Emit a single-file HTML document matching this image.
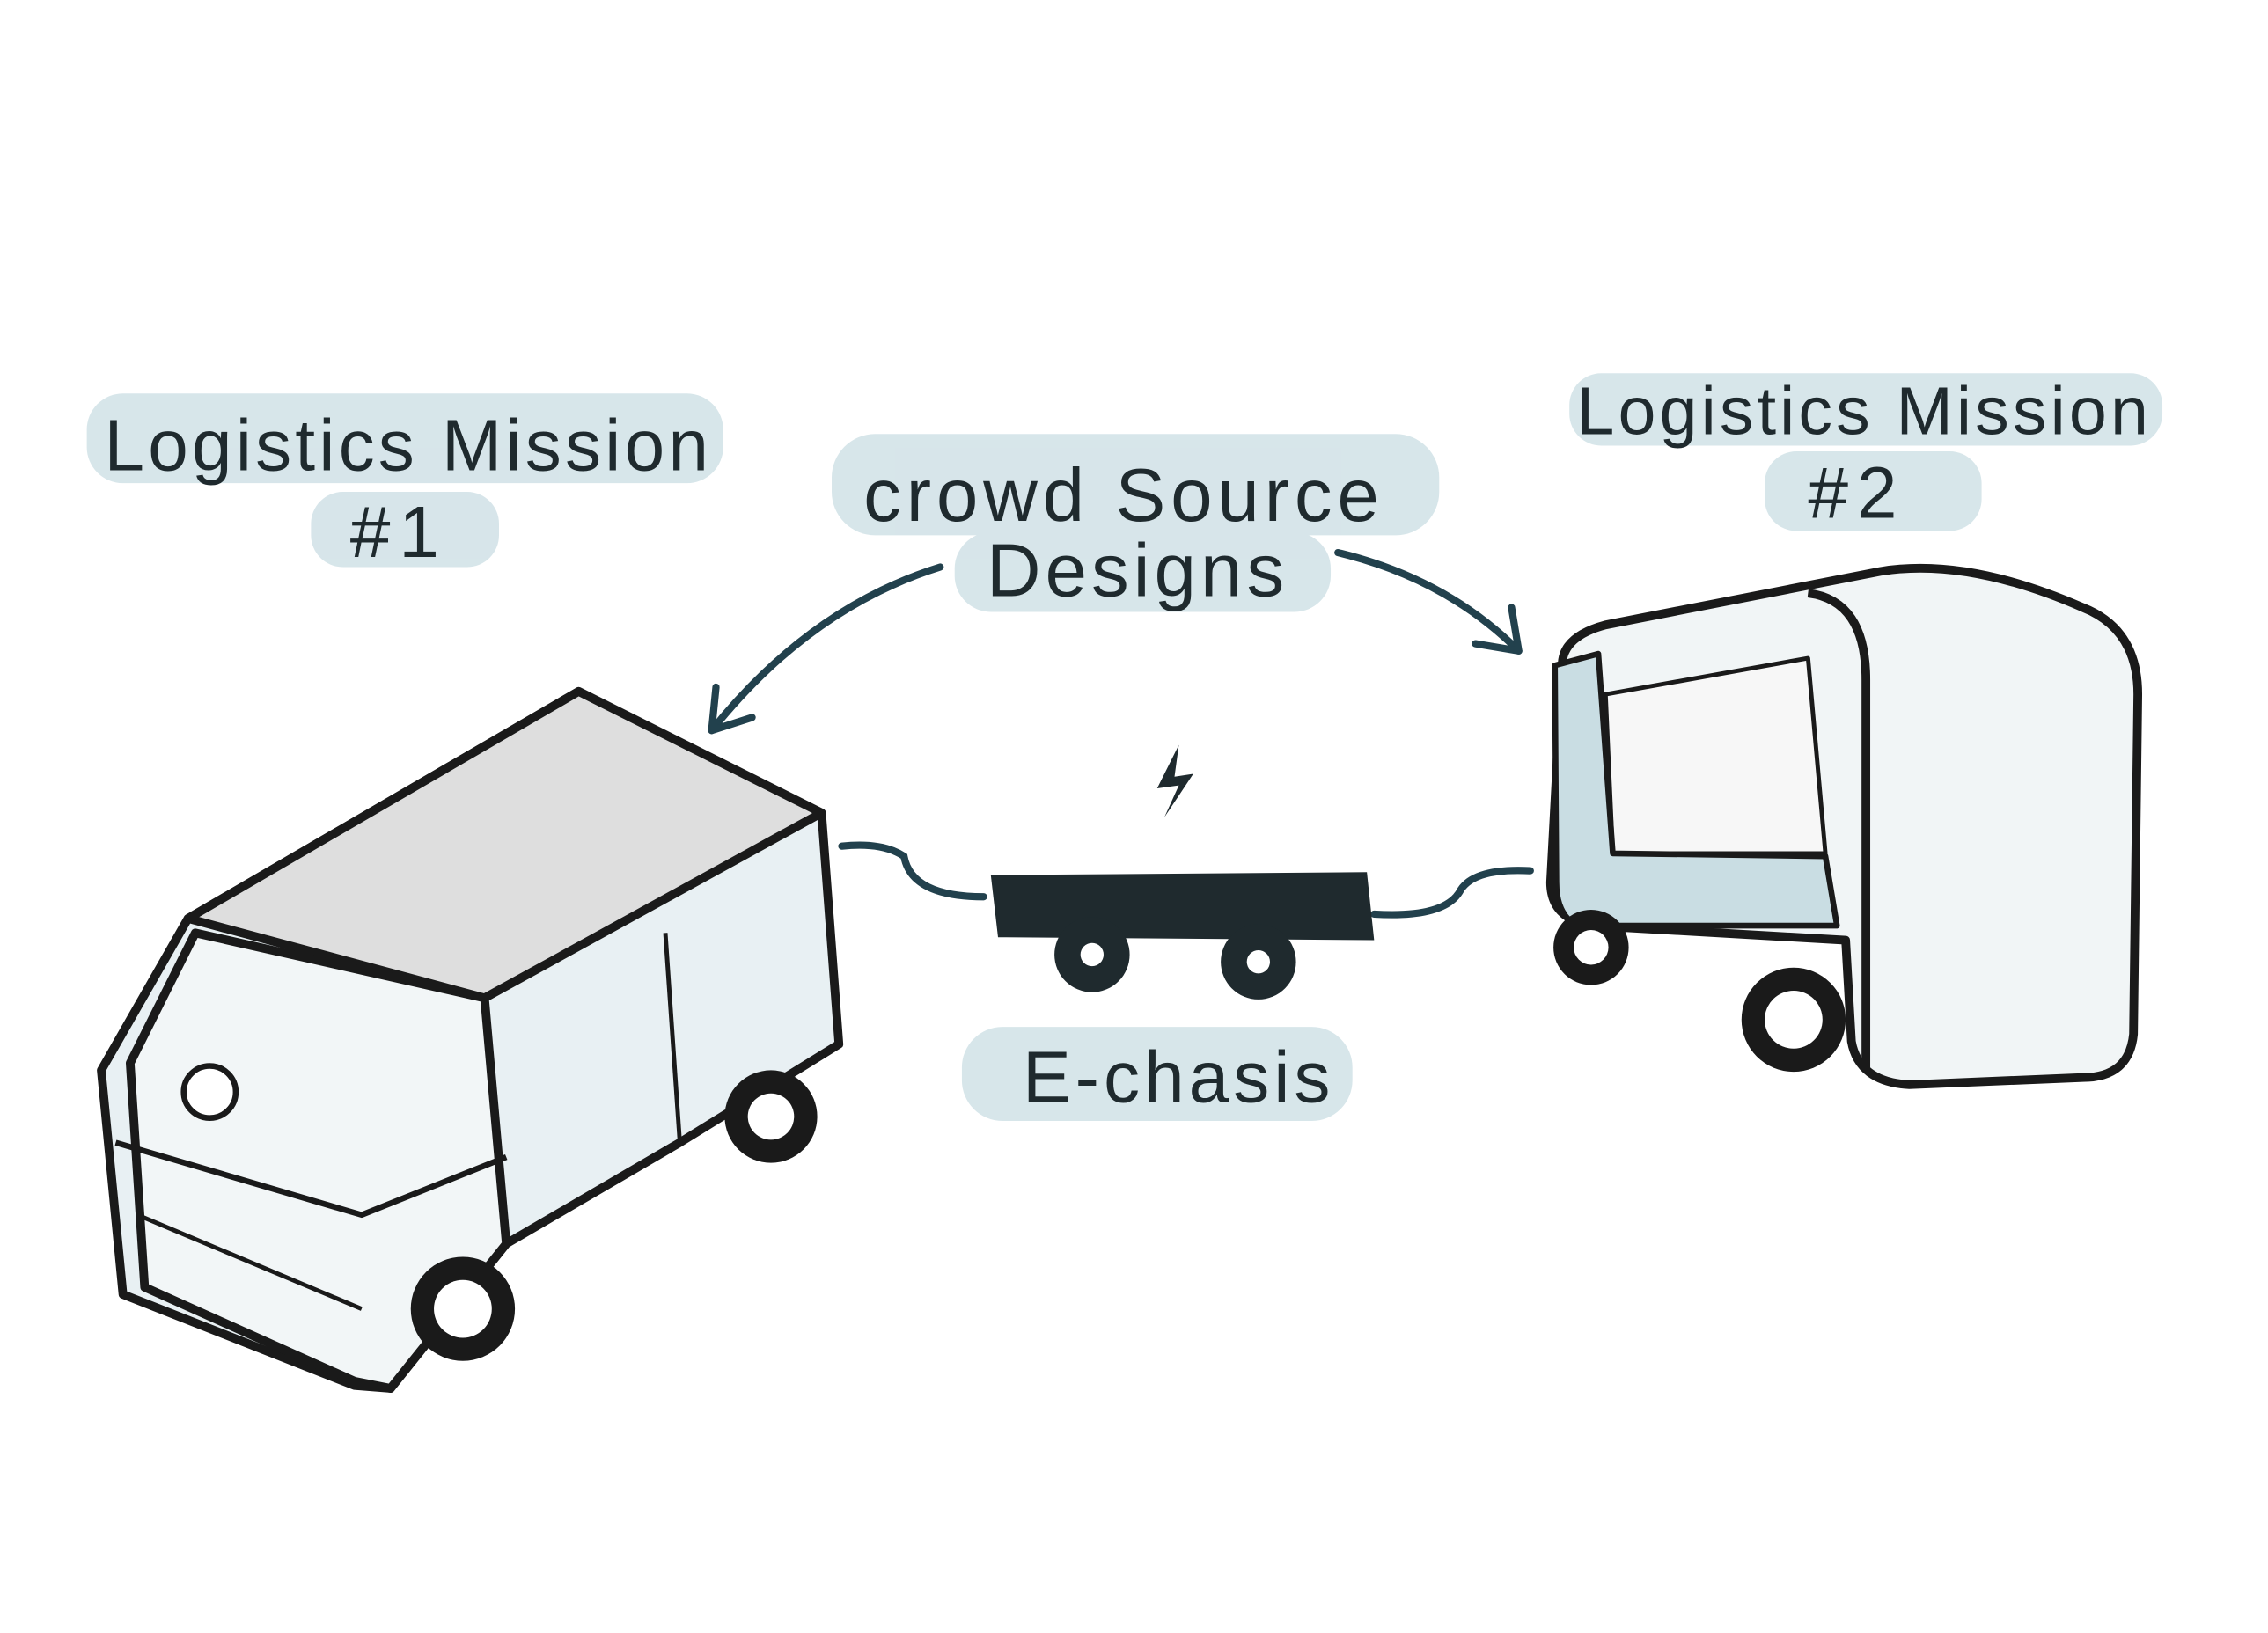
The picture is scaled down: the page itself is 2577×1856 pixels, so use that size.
<!DOCTYPE html>
<html><head><meta charset="utf-8"><style>
html,body{margin:0;padding:0;background:#fff;}
svg{display:block;}
text{font-family:"Liberation Sans",sans-serif;fill:#1f2a2e;}
</style></head><body>
<svg width="2577" height="1856" viewBox="0 0 1568 1129" xmlns="http://www.w3.org/2000/svg">
<rect width="1568" height="1129" fill="#ffffff"/>
<g fill="#d3e3e8" opacity="0.9">
<rect x="60" y="272" width="440" height="62" rx="25"/>
<rect x="215" y="340" width="130" height="52" rx="22"/>
<rect x="1085" y="258" width="410" height="50" rx="22"/>
<rect x="1220" y="312" width="150" height="55" rx="22"/>
<rect x="575" y="300" width="420" height="70" rx="30"/>
<rect x="660" y="368" width="260" height="55" rx="25"/>
<rect x="665" y="710" width="270" height="65" rx="28"/>
</g>
<g font-size="50" letter-spacing="2.5">
<text x="72" y="325">Logistics Mission</text>
<text x="242" y="385" letter-spacing="6">#1</text>
<text x="1090" y="300" font-size="47" letter-spacing="2.5">Logistics Mission</text>
<text x="1250" y="358" letter-spacing="6">#2</text>
<text x="597" y="360" font-size="52" letter-spacing="3.5">crowd Source</text>
<text x="682" y="412" font-size="52" letter-spacing="3">Designs</text>
<text x="707" y="762" letter-spacing="3">E-chasis</text>
</g>
<g fill="none" stroke="#22414d" stroke-width="5" stroke-linecap="round">
<path d="M650 392 Q560 420 492 505"/>
<path d="M492 505 L495 475 M492 505 L520 496"/>
<path d="M925 382 Q1000 400 1050 450"/>
<path d="M1050 450 L1020 445 M1050 450 L1045 420"/>
<path d="M582 585 Q610 582 625 592 Q630 620 680 620"/>
<path d="M950 632 Q1000 635 1010 615 Q1020 600 1058 602"/>
</g>
<path d="M815 515 L800 545 L815 543 L805 565 L825 535 L812 537 Z" fill="#1f2a2e"/>
<polygon points="685,605 945,603 950,650 690,648" fill="#1f2a2e"/>
<circle cx="755" cy="660" r="26" fill="#1f2a2e"/><circle cx="755" cy="660" r="8" fill="#fff"/>
<circle cx="870" cy="665" r="26" fill="#1f2a2e"/><circle cx="870" cy="665" r="8" fill="#fff"/>
<g stroke="#1a1a1a" stroke-width="6" stroke-linejoin="round" fill="#e8f0f3">
<polygon points="70,740 130,635 400,478 568,562 580,722 470,790 350,860 270,960 245,958 85,895"/>
<polygon points="130,635 400,478 568,562 335,690" fill="#dedede"/>
<polygon points="90,735 135,645 335,690 350,860 270,960 245,955 100,890" fill="#f2f6f7"/>
<polyline points="460,645 470,790" fill="none" stroke-width="3"/>
<polyline points="80,790 250,840 350,800" fill="none" stroke-width="4"/>
<polyline points="95,840 250,905" fill="none" stroke-width="3"/>
</g>
<circle cx="320" cy="905" r="36" fill="#1a1a1a"/><circle cx="320" cy="905" r="20" fill="#fff"/>
<circle cx="533" cy="772" r="32" fill="#1a1a1a"/><circle cx="533" cy="772" r="16" fill="#fff"/>
<circle cx="145" cy="755" r="18" fill="#fff" stroke="#1a1a1a" stroke-width="4"/>
<g stroke="#1a1a1a" stroke-width="6" stroke-linejoin="round">
<path d="M1080 460 Q1080 440 1110 432 L1300 395 Q1360 385 1440 420 Q1478 435 1478 480 L1475 715 Q1472 745 1440 745 L1320 750 Q1285 748 1280 720 L1276 650 L1100 640 Q1072 635 1072 610 Z" fill="#f1f5f6"/>
<path d="M1110 480 L1250 455 L1262 590 L1115 590 Z" fill="#f7f7f7" stroke-width="3"/>
<path d="M1075 460 L1105 452 L1115 590 L1262 592 L1270 640 L1090 640 Q1076 632 1076 610 Z" fill="#c9dde3" stroke-width="4"/>
<path d="M1250 410 Q1290 415 1290 470 L1290 740" fill="none"/>
</g>
<circle cx="1240" cy="705" r="36" fill="#1a1a1a"/><circle cx="1240" cy="705" r="20" fill="#fff"/>
<circle cx="1100" cy="655" r="26" fill="#1a1a1a"/><circle cx="1100" cy="655" r="12" fill="#fff"/>
</svg>
</body></html>
